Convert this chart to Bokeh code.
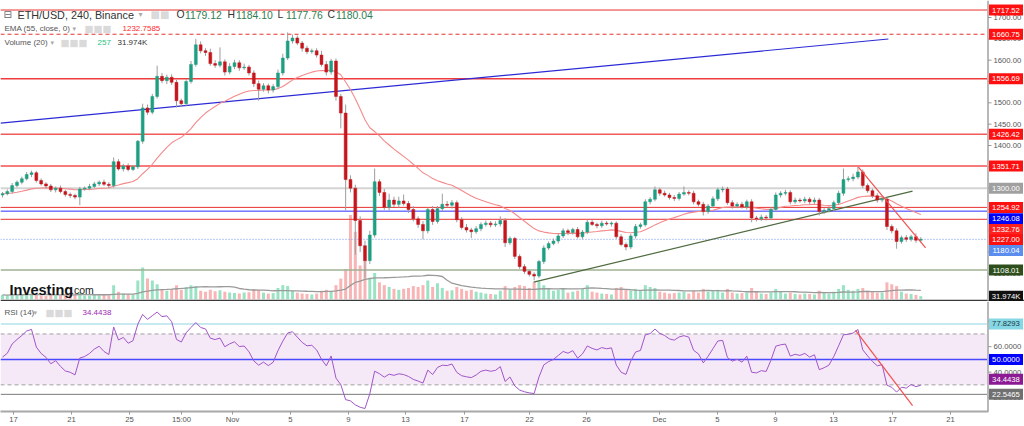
import numpy as np
import pandas as pd
from bokeh.plotting import figure
from bokeh.layouts import column
from bokeh.models import (Range1d, FixedTicker, BoxAnnotation, Label,
                          ColumnDataSource, CustomJSTickFormatter)
from bokeh.core.properties import value
from bokeh.embed import file_html
from bokeh.resources import INLINE

# ---------------- data (ETH/USD, one bar per 8h) ----------------
first_open = 1284.0
closes = [
    1287, 1292, 1306, 1314, 1322, 1332, 1336, 1318, 1310, 1305,
    1296, 1300, 1292, 1285, 1283, 1279, 1298, 1300, 1304, 1310,
    1314, 1309, 1306, 1362, 1345, 1352, 1344, 1350, 1410, 1488,
    1478, 1515, 1562, 1552, 1560, 1548, 1505, 1498, 1550, 1590,
    1636, 1622, 1618, 1592, 1588, 1596, 1572, 1585, 1594, 1582,
    1584, 1570, 1545, 1532, 1540, 1530, 1538, 1570, 1605, 1645,
    1652, 1640, 1628, 1620, 1622, 1612, 1590, 1572, 1598, 1515,
    1476, 1320, 1300, 1224, 1165, 1130, 1190, 1315, 1290, 1255,
    1272, 1262, 1270, 1264, 1250, 1228, 1215, 1200, 1250, 1222,
    1252, 1262, 1260, 1266, 1226, 1208, 1202, 1198, 1205, 1215,
    1218, 1214, 1216, 1224, 1172, 1182, 1140, 1116, 1105, 1098,
    1094, 1128, 1160, 1170, 1176, 1188, 1200, 1196, 1203, 1186,
    1197, 1220, 1215, 1212, 1218, 1216, 1218, 1186, 1168, 1162,
    1188, 1210, 1214, 1268, 1274, 1296, 1288, 1284, 1278, 1276,
    1286, 1290, 1288, 1268, 1262, 1245, 1258, 1275, 1296, 1298,
    1266, 1258, 1262, 1256, 1268, 1230, 1228, 1232, 1230, 1250,
    1284, 1288, 1290, 1268, 1272, 1270, 1274, 1268, 1272, 1245,
    1248, 1252, 1266, 1288, 1320, 1322, 1326, 1338, 1306, 1294,
    1282, 1272, 1274, 1210, 1200, 1175, 1184, 1180, 1186, 1178,
    1180.04,
]
wick_up = [
    4, 5, 6, 4, 5, 6, 5, 4, 5, 4,
    5, 4, 6, 4, 5, 4, 5, 4, 6, 5,
    4, 6, 5, 10, 6, 5, 6, 4, 3, 10,
    8, 6, 25, 8, 6, 7, 6, 5, 6, 8,
    14, 8, 6, 9, 8, 34, 6, 8, 7, 6,
    8, 5, 6, 7, 6, 5, 6, 8, 10, 20,
    8, 6, 5, 6, 5, 6, 10, 8, 5, 6,
    6, 20, 10, 8, 10, 12, 10, 31, 6, 8,
    15, 8, 10, 15, 6, 8, 6, 8, 5, 8,
    6, 25, 8, 6, 5, 6, 8, 5, 6, 5,
    6, 5, 6, 10, 6, 5, 4, 5, 6, 4,
    5, 4, 6, 5, 6, 5, 6, 5, 4, 6,
    5, 6, 5, 4, 6, 5, 4, 4, 6, 5,
    5, 6, 5, 6, 5, 8, 5, 6, 5, 6,
    5, 14, 5, 6, 5, 6, 5, 6, 5, 6,
    5, 6, 5, 6, 5, 6, 5, 6, 5, 6,
    6, 5, 6, 5, 6, 5, 6, 5, 6, 5,
    5, 6, 5, 6, 26, 6, 8, 13, 6, 5,
    5, 6, 5, 4, 5, 6, 5, 6, 5, 8,
    5,
]
wick_dn = [
    6, 4, 5, 4, 5, 4, 6, 5, 4, 6,
    5, 6, 4, 5, 6, 5, 19, 4, 5, 4,
    5, 4, 6, 5, 4, 6, 5, 4, 5, 6,
    6, 5, 5, 6, 8, 6, 16, 8, 6, 5,
    5, 6, 8, 5, 6, 5, 8, 5, 6, 7,
    5, 6, 8, 27, 6, 8, 6, 5, 6, 5,
    6, 5, 8, 6, 5, 6, 5, 8, 6, 10,
    36, 73, 10, 80, 15, 40, 8, 6, 8, 6,
    8, 6, 8, 5, 8, 6, 8, 20, 6, 8,
    5, 6, 5, 8, 6, 5, 6, 15, 5, 6,
    5, 6, 5, 6, 10, 5, 6, 5, 6, 5,
    10, 5, 6, 5, 4, 6, 5, 6, 5, 4,
    6, 5, 4, 6, 5, 4, 6, 5, 4, 8,
    5, 6, 5, 4, 6, 5, 6, 4, 5, 6,
    5, 4, 5, 6, 5, 9, 5, 4, 5, 6,
    5, 6, 5, 4, 6, 10, 6, 5, 6, 5,
    5, 6, 5, 6, 5, 4, 5, 6, 5, 9,
    6, 5, 6, 5, 6, 5, 6, 5, 6, 5,
    5, 6, 5, 8, 6, 17, 5, 6, 5, 6,
    5,
]
volume_k = [
    45, 40, 55, 50, 45, 60, 55, 50, 40, 35,
    45, 38, 42, 50, 45, 60, 70, 40, 38, 45,
    42, 50, 40, 150, 80, 60, 55, 50, 200, 340,
    220, 200, 160, 110, 90, 110, 150, 100, 130, 150,
    140, 90, 80, 100, 85, 95, 80, 70, 65, 60,
    70, 75, 110, 100, 70, 60, 65, 120, 150, 140,
    90, 70, 60, 55, 50, 60, 90, 100, 80, 150,
    220, 320, 900, 720, 360, 420, 230, 280, 180, 150,
    130, 110, 100, 110, 120, 140, 130, 150, 200, 130,
    170, 120, 90, 95, 130, 110, 90, 100, 80, 70,
    60, 55, 50, 90, 140, 100, 130, 150, 140, 120,
    180, 190, 150, 110, 90, 100, 120, 70, 80, 90,
    110, 150, 80, 70, 60, 55, 50, 120, 130, 100,
    90, 110, 90, 150, 130, 120, 80, 70, 60, 65,
    70, 80, 60, 90, 70, 110, 80, 90, 100, 70,
    110, 70, 60, 65, 70, 120, 80, 60, 55, 70,
    110, 80, 60, 70, 55, 50, 60, 55, 50, 90,
    70, 60, 80, 110, 150, 100, 90, 110, 120, 90,
    80, 70, 70, 180, 160, 140, 80, 60, 55, 45,
    32,
]

x_tick_pos = [2.28, 14.28, 26.28, 37.04, 47.59, 59.59, 71.59, 83.38, 95.59,
              109.04, 120.84, 135.94, 147.94, 159.94, 171.94, 184.15, 196.15]
x_tick_labels = ["17", "21", "25", "15:00", "Nov", "5", "9", "13", "17",
                 "22", "26", "Dec", "5", "9", "13", "17", "21"]
price_ticks = [1100, 1150, 1200, 1250, 1300, 1350, 1400, 1450, 1500, 1550, 1600, 1650, 1700]
rsi_ticks = [20, 40, 60, 80]

level_values = [1717.52, 1660.75, 1556.69, 1426.42, 1351.71, 1300.00,
                1254.92, 1246.08, 1227.00, 1108.01]
last_price = 1180.04
price_tag_texts = ["1717.52", "1660.75", "1556.69", "1426.42", "1351.71", "1300.00",
                   "1254.92", "1246.08", "1232.76", "1227.00", "1180.04", "1108.01", "31.974K"]
rsi_levels = [77.8293, 50.0, 22.5465]
rsi_tag_texts = ["77.8293", "50.0000", "34.4438", "22.5465"]

# trend lines drawn on the chart: (bar index, price) end points
blue_line_x, blue_line_y = [-0.41, 183.3], [1452.3, 1649.6]
green_line_x, green_line_y = [109.9, 188.3], [1079.6, 1292.9]
red_line_x, red_line_y = [177.1, 191.0], [1349.1, 1160.2]
rsi_red_x, rsi_red_y = [176.5, 188.3], [72.9, 13.7]

# ---------------- derived series ----------------
c = pd.Series(closes, dtype=float)
o = pd.Series([first_open] + closes[:-1], dtype=float)
hi = np.maximum(o, c) + np.array(wick_up)
lo = np.minimum(o, c) - np.array(wick_dn)
ema = c.ewm(span=27.5, adjust=False).mean()           # EMA(55) of 4h bars on 8h bars
vol_ma = pd.Series(volume_k, dtype=float).rolling(20, min_periods=1).mean()

# Wilder RSI on the 8h bars, averages seeded with the mean absolute move of the first bars
RSI_N = 11
d = np.diff(np.array(closes, dtype=float), prepend=first_open)
seed = np.abs(d[:14]).mean() / 2
ag, al, rsi = seed, seed, []
for di in d:
    ag = (ag * (RSI_N - 1) + max(di, 0.0)) / RSI_N
    al = (al * (RSI_N - 1) + max(-di, 0.0)) / RSI_N
    rsi.append(100 - 100 / (1 + ag / al))

UP, DOWN = "#1f9e82", "#c4161c"
VUP, VDN = "#7fdcb5", "#f7a3a3"
up = (c >= o).values
n = len(closes)
xs = np.arange(n)
src = ColumnDataSource(dict(
    x=xs, top=np.maximum(o, c), bottom=np.minimum(o, c), hi=hi, lo=lo,
    color=np.where(up, UP, DOWN), vol=volume_k, vcolor=np.where(up, VUP, VDN),
    ema=ema, vma=vol_ma, rsi=rsi))

# ---------------- layout helpers (reference pixel -> data) ----------------
def xd(px):
    return (px - 2.0) / 4.833

def yd(py):
    return 1700.0 - (py - 17.0) * 2.344

def ry(py):
    return 77.83 - (py - 323.7) / 1.284

FONT = "Liberation Sans"
W = 1024
xr = Range1d(xd(0), xd(1024))
AX = xd(987.5)             # right price scale line
X0 = xd(0)

def txt(fig, x, y, t, size, color, font=FONT, style="normal", baseline="middle"):
    fig.add_layout(Label(x=x, y=y, text=t, text_font=font, text_font_size=size,
                         text_color=color, text_baseline=baseline, text_align="left",
                         text_font_style=style))

def right_scale(fig, y0, y1, ticks, fmt, tags, tag_y, tag_bg, tag_fg):
    fig.segment(x0=[AX], y0=[y0], x1=[AX], y1=[y1], line_color="#b8b8b8", line_width=2)
    fig.segment(x0=[AX] * len(ticks), y0=ticks, x1=[xd(991)] * len(ticks), y1=ticks,
                line_color="#999999", line_width=1)
    fig.text(x=[xd(993)] * len(ticks), y=ticks, text=[fmt.format(t) for t in ticks],
             text_font=value(FONT), text_font_size="7.7px", text_color="#555555",
             text_baseline="middle", text_align="left")
    fig.rect(x=[xd(1005.5)] * len(tags), y=tag_y, width=34, height=11,
             width_units="screen", height_units="screen", fill_color=tag_bg, line_color=None)
    fig.text(x=[xd(1005.5)] * len(tags), y=tag_y, text=tags, text_color=tag_fg,
             text_font=value(FONT), text_font_size="7.7px",
             text_baseline="middle", text_align="center")

# ---------------- price pane ----------------
p = figure(width=W, height=301, x_range=xr, y_range=Range1d(yd(301), yd(0)),
           x_axis_location=None, y_axis_location=None, toolbar_location=None,
           output_backend="svg", min_border_left=0, min_border_right=0,
           min_border_top=0, min_border_bottom=0, outline_line_color=None,
           background_fill_color="white", border_fill_color="white")
p.grid.visible = False
p.extra_y_ranges = {"vol": Range1d(-25, 3195)}

# volume
p.vbar(x="x", width=0.62, top="vol", bottom=0, source=src, y_range_name="vol",
       fill_color="vcolor", line_color=None, fill_alpha=0.8)
p.line(x="x", y="vma", source=src, y_range_name="vol", line_color="#9a9a9a", line_width=1.3)

# horizontal levels
level_colors = ["#e8302e", "#e8302e", "#ee3b3b", "#f05a5a", "#f77b7b", "#d4d4d4",
                "#e8302e", "#2f2fff", "#e8302e", "#9fb093"]
level_widths = [1, 1, 1.5, 1.5, 2, 2, 1, 1, 1, 1.5]
level_dashes = ["solid", "4 3", "solid", "solid", "solid", "solid", "solid", "solid", "solid", "solid"]
for v, col, lw, dash in zip(level_values, level_colors, level_widths, level_dashes):
    p.segment(x0=[X0], y0=[v], x1=[AX], y1=[v], line_color=col, line_width=lw, line_dash=dash)
p.segment(x0=[X0], y0=[last_price], x1=[AX], y1=[last_price], line_color="#6b8ff0",
          line_width=1, line_dash="1 2")

# trend lines
p.line(blue_line_x, blue_line_y, line_color="#2b2bd6", line_width=1.2)
p.line(green_line_x, green_line_y, line_color="#4f6b3f", line_width=1.2)

# EMA
p.line(x="x", y="ema", source=src, line_color="#f48a8a", line_width=1.1)

# candles
p.segment(x0="x", y0="lo", x1="x", y1="hi", source=src, line_color="#9d9d9d", line_width=1)
p.vbar(x="x", width=0.6, top="top", bottom="bottom", source=src,
       fill_color="color", line_color="color", line_width=0.5)

p.line(red_line_x, red_line_y, line_color="#f25050", line_width=1.2)

# separator between panes
p.segment(x0=[X0], y0=[yd(300.2)], x1=[xd(1024)], y1=[yd(300.2)], line_color="#3a3a3a", line_width=2)

# price scale with tags
tag_y = [1717.52, 1660.75, 1556.69, 1426.42, 1351.71, 1300.00, 1254.92,
         yd(218.3), yd(229.0), yd(239.3), yd(250.0), 1108.01, yd(295.7)]
tag_bg = ["#ff1010", "#ff1010", "#ff1010", "#ff1010", "#ff1010", "#a0a0a0", "#ff1010",
          "#0000ff", "#ff2020", "#ff1010", "#5b8def", "#2e4f1c", "#111111"]
right_scale(p, yd(0), yd(300), price_ticks, "{:.2f}", price_tag_texts, tag_y, tag_bg,
            ["white"] * len(price_tag_texts))

# legend texts
txt(p, xd(3), yd(14), "⊟", "10px", "#666666", font="DejaVu Sans")
txt(p, xd(17), yd(14), "ETH/USD, 240, Binance", "10.8px", "#333333")
txt(p, xd(138), yd(14), "▾", "8px", "#aaaaaa", font="DejaVu Sans")
txt(p, xd(150), yd(14), "■■", "10px", "#dadada", font="DejaVu Sans")
GV = "#2f7d52"
for lx, letter, val in [(176, "O", "1179.12"), (227, "H", "1184.10"),
                        (277, "L", "1177.76"), (327, "C", "1180.04")]:
    txt(p, xd(lx), yd(14), letter, "10.4px", "#333333")
    txt(p, xd(lx + 8.5), yd(14), val, "10.4px", GV)

txt(p, xd(4), yd(28), "EMA (55, close, 0)", "8px", "#555555")
txt(p, xd(72), yd(28), "▾", "7px", "#aaaaaa", font="DejaVu Sans")
txt(p, xd(84), yd(28), "■■■", "9.5px", "#dadada", font="DejaVu Sans")
txt(p, xd(122), yd(28), "1232.7585", "8px", "#ff2a2a")

txt(p, xd(4), yd(42), "Volume (20)", "8px", "#555555")
txt(p, xd(50), yd(42), "▾", "7px", "#aaaaaa", font="DejaVu Sans")
txt(p, xd(60), yd(42), "■■■", "9.5px", "#dadada", font="DejaVu Sans")
txt(p, xd(97), yd(42), "257", "8px", "#26c281")
txt(p, xd(117), yd(42), "31.974K", "8px", "#333333")

# watermark
txt(p, xd(9), yd(289.5), "Investing", "14.5px", "#141414", style="bold", baseline="alphabetic")
txt(p, xd(70.5), yd(289.5), ".com", "10.5px", "#222222", baseline="alphabetic")

# ---------------- RSI pane ----------------
r = figure(width=W, height=125, x_range=xr, y_range=Range1d(ry(412), ry(301)),
           y_axis_location=None, toolbar_location=None, output_backend="svg",
           min_border_left=0, min_border_right=0, min_border_top=0, min_border_bottom=0,
           outline_line_color=None, background_fill_color="white", border_fill_color="white")
r.grid.visible = False

xa = r.xaxis[0]
xa.bounds = (X0, AX)
xa.major_label_text_font_size = "7.7px"
xa.major_label_text_font = FONT
xa.major_label_text_color = "#555555"
xa.axis_line_color = "#a8a8a8"
xa.axis_line_width = 2
xa.major_tick_line_color = "#999999"
xa.major_tick_out = 3
xa.major_tick_in = 0
xa.minor_tick_line_color = None
xa.major_label_standoff = 0
xa.ticker = FixedTicker(ticks=x_tick_pos)
xa.formatter = CustomJSTickFormatter(args=dict(pos=x_tick_pos, lab=x_tick_labels), code="""
    let best = 0;
    for (let i = 0; i < pos.length; i++) {
        if (Math.abs(pos[i] - tick) < Math.abs(pos[best] - tick)) best = i;
    }
    return lab[best];
""")

r.add_layout(BoxAnnotation(left=X0, right=AX, bottom=30, top=70, fill_color="#9c27b0",
                           fill_alpha=0.1, line_color=None, level="underlay"))
for v in (70, 30):
    r.segment(x0=[X0], y0=[v], x1=[AX], y1=[v], line_color="#a0a0a0", line_width=1, line_dash="4 3")
for v, col, lw in zip(rsi_levels, ["#8fd3e3", "#4848ff", "#7a7a7a"], [1, 1.5, 1]):
    r.segment(x0=[X0], y0=[v], x1=[AX], y1=[v], line_color=col, line_width=lw)

r.line(x="x", y="rsi", source=src, line_color="#a055c8", line_width=1)
r.line(rsi_red_x, rsi_red_y, line_color="#f25050", line_width=1.2)

right_scale(r, ry(301), ry(412), rsi_ticks, "{:.4f}", rsi_tag_texts,
            [77.8293, 50.0, 34.4438, 22.5465],
            ["#86d7e6", "#0000ff", "#8b1a94", "#707070"],
            ["#1a3a40", "white", "white", "white"])

txt(r, xd(4), ry(312.3), "RSI (14)", "8px", "#555555")
txt(r, xd(33), ry(312.3), "▾", "7px", "#aaaaaa", font="DejaVu Sans")
txt(r, xd(45), ry(312.3), "■■■", "9.5px", "#dadada", font="DejaVu Sans")
txt(r, xd(82), ry(312.3), "34.4438", "8px", "#9c27b0")

layout = column(p, r, spacing=0)
open("out.html", "w").write(file_html(layout, INLINE, "ETH/USD"))
